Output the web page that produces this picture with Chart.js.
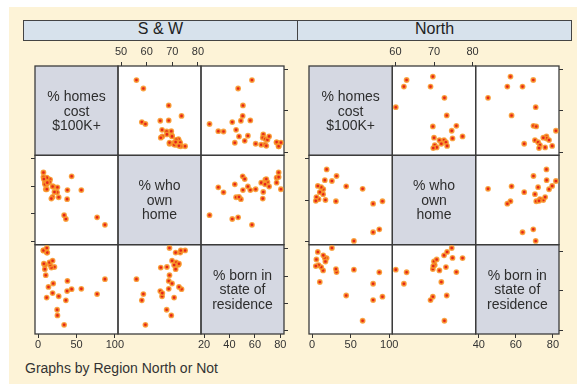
<!DOCTYPE html>
<html>
<head>
<meta charset="utf-8">
<script src="https://cdn.jsdelivr.net/npm/chart.js@4.4.1/dist/chart.umd.min.js"></script>
<style>
  html, body { margin: 0; padding: 0; background: #fff; }
  body { width: 577px; height: 384px; position: relative; overflow: hidden; font-family: "Liberation Sans", Arial, sans-serif; }
  #frame { position: absolute; left: 9px; top: 7px; width: 568px; height: 377px; background: #fdf3d7; }
  .strip { position: absolute; top: 20px; height: 21px; box-sizing: border-box; border: 1px solid #444; background: #d7e2ec; color: #222; font-size: 16px; line-height: 15px; text-align: center; }
  canvas { position: absolute; }
  #note { position: absolute; left: 25px; top: 360px; font-size: 14px; line-height: 16px; color: #333; }
</style>
</head>
<body>
<div id="frame"></div>
<div class="strip" id="strip0" style="left:23px;width:275px"></div>
<div class="strip" id="strip1" style="left:297px;width:275px"></div>
<canvas id="swChart" width="276" height="316" style="left:20px;top:40px"></canvas>
<canvas id="nChart" width="274" height="316" style="left:298px;top:40px"></canvas>
<div id="note">Graphs by Region North or Not</div>
<script>
const groupNames = ["S & W", "North"];
const varLabels = [
    ["% homes", "cost", "$100K+"],
    ["% who", "own", "home"],
    ["% born in", "state of", "residence"]
];

// South & West states
const swHomes = [87, 76.8, 56.3, 43.7, 38.2, 37.8, 36.2, 33.9, 26.8, 25.2, 24.8, 11.2, 18.9, 13.5, 19.7, 10, 8.8, 21.3, 17.3, 15.7, 14.8, 9, 18.9, 11.4, 12, 7, 7, 11.4, 7.5];
const swOwn = [56.0, 58.7, 68.6, 73.6, 68.6, 65.3, 58.1, 59.5, 66.0, 69.6, 67.8, 70.7, 66.1, 72.6, 69.9, 68.9, 71.3, 67.9, 65.5, 72.4, 71.5, 70.7, 69.9, 73.1, 71.3, 75.0, 73.3, 68.9, 72.6];
const swBorn = [57.7, 46.8, 50.6, 50.4, 56.4, 49.0, 42.2, 24.3, 45.2, 31.2, 35.3, 44.2, 47.5, 52, 54.5, 60.6, 65.0, 66.6, 66.2, 68.2, 69.9, 68.0, 71.2, 77.1, 77.1, 78.7, 78.7, 80.5, 69.0];

// North states
const nHomes = [91.2, 87.1, 79.1, 79.1, 65.5, 54.2, 44.2, 31.7, 30.9, 25.7, 18.9, 16.5, 17.3, 14.5, 14.3, 11.8, 10.0, 8.4, 7.4, 5.6, 4.8];
const nOwn = [69.7, 62.9, 69.1, 62.2, 72.7, 60.1, 73.3, 75.8, 69.7, 74.6, 77.4, 74.8, 70.0, 72.6, 71.4, 73.1, 71.9, 70.2, 73.4, 70.7, 69.8];
const nBorn = [57.1, 69.4, 55.4, 63.6, 45.0, 70.7, 57.7, 69.5, 71.0, 81.6, 76.5, 76.6, 74.8, 77.9, 70.3, 72.0, 64.5, 73.0, 79.6, 75.8, 72.5];

const homesTicks = [0, 50, 100];
const swOwnTicks = [50, 60, 70, 80];
const swBornTicks = [20, 40, 60, 80];
const nOwnTicks = [60, 70, 80];
const nBornTicks = [40, 60, 80];

const colIds = ["xh", "xo", "xb"];
const rowIds = ["yh", "yo", "yb"];
const tickFont = { family: "'Liberation Sans', Arial, sans-serif", size: 11 };

function axisRange(values, ticks) {
    const lo = Math.min(...values, ...ticks);
    const hi = Math.max(...values, ...ticks);
    const pad = (hi - lo) * 0.04;
    return { min: lo - pad, max: hi + pad };
}

// every box in a stack gets the same size, otherwise the layout shrinks the stack
function fixSize(kind) {
    return s => { if (kind === "x") s.height = 20; else s.width = 6; };
}

// visible axis: tick marks, labels only on x
function realAxis(kind, pos, weight, range, ticks) {
    return {
        type: "linear", axis: kind, position: pos, stack: "m", weight: weight,
        min: range.min, max: range.max,
        grid: { drawOnChartArea: false, drawTicks: true, tickLength: 4, tickColor: "#333", tickWidth: 1 },
        border: { display: false },
        ticks: { display: kind === "x", color: "#333", font: tickFont, padding: pos === "top" ? 3 : 0, autoSkip: false, maxRotation: 0 },
        afterBuildTicks: s => { s.ticks = ticks.map(v => ({ value: v })); },
        afterFit: fixSize(kind)
    };
}

// empty slot so stacked axes line up with the cells
function slotAxis(kind, pos, weight) {
    return {
        type: "linear", axis: kind, position: pos, stack: "m", weight: weight,
        min: 0, max: 1,
        grid: { display: false, drawTicks: false }, border: { display: false }, ticks: { display: false },
        afterFit: fixSize(kind)
    };
}

const matrixCells = {
    id: "matrixCells",
    beforeDatasetsDraw(chart) {
        const ctx = chart.ctx;
        ctx.save();
        for (let r = 0; r < 3; r++) {
            for (let c = 0; c < 3; c++) {
                const xs = chart.scales[colIds[c]];
                const ys = chart.scales[rowIds[r]];
                ctx.fillStyle = r === c ? "#d5d8e2" : "#ffffff";
                ctx.fillRect(xs.left, ys.top, xs.right - xs.left, ys.bottom - ys.top);
                if (r === c) {
                    ctx.fillStyle = "#2e2e2e";
                    ctx.font = "14px 'Liberation Sans', Arial, sans-serif";
                    ctx.textAlign = "center";
                    ctx.textBaseline = "middle";
                    const cx = (xs.left + xs.right) / 2;
                    const cy = (ys.top + ys.bottom) / 2 + 1;
                    varLabels[r].forEach((line, i) => ctx.fillText(line, cx, cy + (i - 1) * 14.4));
                }
            }
        }
        ctx.strokeStyle = "#3c3c3c";
        ctx.lineWidth = 1.3;
        for (let r = 0; r < 3; r++) {
            for (let c = 0; c < 3; c++) {
                const xs = chart.scales[colIds[c]];
                const ys = chart.scales[rowIds[r]];
                ctx.strokeRect(xs.left, ys.top, xs.right - xs.left, ys.bottom - ys.top);
            }
        }
        ctx.restore();
    }
};

function drawPanel(canvasId, vars, ownTicks, bornTicks, padding) {
    const tickSets = [homesTicks, ownTicks, bornTicks];
    const ranges = vars.map((v, i) => axisRange(v, tickSets[i]));

    const datasets = [];
    for (let r = 0; r < 3; r++) {
        for (let c = 0; c < 3; c++) {
            if (r === c) continue;
            datasets.push({
                data: vars[c].map((v, i) => ({ x: v, y: vars[r][i] })),
                xAxisID: colIds[c],
                yAxisID: rowIds[r],
                pointRadius: 2.1,
                borderWidth: 1.6,
                backgroundColor: "#e4231b",
                borderColor: "rgba(248,150,40,0.85)",
                clip: false
            });
        }
    }

    const scales = {
        // top stack: only the middle column shows
        xht: slotAxis("x", "top", 3),
        xo: realAxis("x", "top", 2, ranges[1], tickSets[1]),
        xbt: slotAxis("x", "top", 1),
        // bottom stack
        xh: realAxis("x", "bottom", 1, ranges[0], tickSets[0]),
        xob: slotAxis("x", "bottom", 2),
        xb: realAxis("x", "bottom", 3, ranges[2], tickSets[2]),
        // left stack: only the middle row shows
        yhl: slotAxis("y", "left", 3),
        yo: realAxis("y", "left", 2, ranges[1], tickSets[1]),
        ybl: slotAxis("y", "left", 1),
        // right stack
        yh: realAxis("y", "right", 1, ranges[0], tickSets[0]),
        yor: slotAxis("y", "right", 2),
        yb: realAxis("y", "right", 3, ranges[2], tickSets[2])
    };

    new Chart(document.getElementById(canvasId), {
        type: "scatter",
        data: { datasets: datasets },
        options: {
            responsive: false,
            animation: false,
            events: [],
            layout: { padding: padding },
            plugins: { legend: { display: false }, tooltip: { enabled: false } },
            scales: scales
        },
        plugins: [matrixCells]
    });
}

document.getElementById("strip0").textContent = groupNames[0];
document.getElementById("strip1").textContent = groupNames[1];

drawPanel("swChart", [swHomes, swOwn, swBorn], swOwnTicks, swBornTicks, { left: 9, right: 6, top: 6, bottom: 2 });
drawPanel("nChart", [nHomes, nOwn, nBorn], nOwnTicks, nBornTicks, { left: 5, right: 7, top: 6, bottom: 2 });
</script>
</body>
</html>
